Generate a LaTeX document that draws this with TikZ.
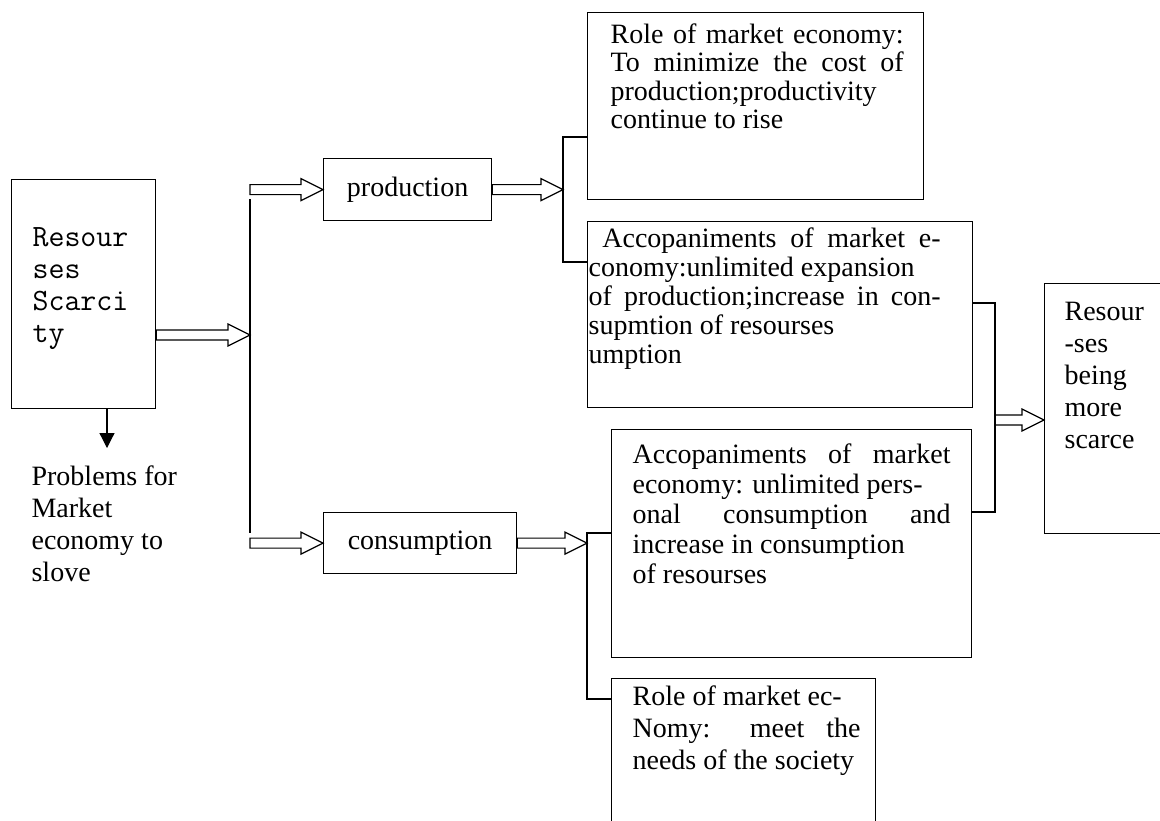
\documentclass[tikz,border=0pt]{standalone}
\usepackage{fontspec}
\setmainfont{Liberation Serif}
\usetikzlibrary{arrows.meta,calc}
\tikzset{
  box/.style={draw, line width=0.6pt, anchor=north west, inner sep=0pt, font=\fontsize{14}{16}\selectfont},
  txt/.style={anchor=base west, inner sep=0pt, align=justify, font=\fontsize{14}{#1}\selectfont},
  txt/.default=16pt,
  fat/.style={to path={let \p1=(\tikztostart), \p2=(\tikztotarget) in
    (\x1,\y1+2.5pt) -- (\x2-11pt,\y1+2.5pt) -- (\x2-11pt,\y1+5.5pt) -- (\x2,\y1)
    -- (\x2-11pt,\y1-5.5pt) -- (\x2-11pt,\y1-2.5pt) -- (\x1,\y1-2.5pt) -- cycle}},
}

\begin{document}
\begin{tikzpicture}[x=0.5pt, y=-0.5pt, line width=0.6pt]
	\path[use as bounding box, fill=white] (0,0) rectangle (1160,820);

	% boxes
	\node[box, minimum width=72pt, minimum height=114.5pt] (res) at (11,179) {};
	\node[box, minimum width=84pt, minimum height=31pt] (prod) at (323,158) {production};
	\node[box, minimum width=96.5pt, minimum height=30.5pt] (cons) at (323,512) {consumption};
	\node[box, minimum width=168pt, minimum height=93.5pt] (role1) at (587,12) {};
	\node[box, minimum width=192.5pt, minimum height=93pt] (acc1) at (587,221) {};
	\node[box, minimum width=180pt, minimum height=114pt] (acc2) at (611,429) {};
	\node[box, minimum width=132pt, minimum height=80pt] (role2) at (611,678) {};
	\node[box, minimum width=65pt, minimum height=125pt] (scarce) at (1044,283) {};

	% texts
	\node[txt, font=\ttfamily\fontsize{15.5}{16}\selectfont, text width=60pt] (resT) at (32,246) {Resour\\ses\\Scarci\\ty};
	\node[txt, text width=80pt] (probT) at (31,485) {Problems for\\Market\\economy to\\slove};
	\node[txt=14.25pt, text width=146.5pt] (role1T) at (610,43) {Role of market economy:\linebreak To minimize the cost of\linebreak production;productivity\\continue to rise};
	\node[txt=14.5pt, text width=176pt] (acc1T) at (588,247) {\ Accopaniments of market e-\linebreak conomy:unlimited expansion\\of production;increase in con-\linebreak supmtion of resourses\\umption};
	\node[txt=15pt, text width=159pt] (acc2T) at (632,463) {Accopaniments of market\linebreak economy: unlimited pers-\\onal consumption and\linebreak increase in consumption\\of resourses};
	\node[txt, text width=114pt] (role2T) at (632,705) {Role of market ec-\\Nomy: meet the\linebreak needs of the society};
	\node[txt, text width=45pt] (scarceT) at (1064,320) {Resour\\-ses\\being\\more\\scarce};

	% joints
	\coordinate (split) at (250,335);
	\coordinate (splitT) at (250,199);
	\coordinate (splitB) at (250,533);
	\coordinate (dn) at (107,448);
	\coordinate (b1T) at (563,137);
	\coordinate (b1B) at (563,262);
	\coordinate (b2T) at (587,533);
	\coordinate (b2B) at (587,699);
	\coordinate (b3T) at (995,303);
	\coordinate (b3B) at (995,512);
	\coordinate (b3M) at (995,420);

	% connectors
	\draw (res.east |- split) to[fat] (split);
	\draw (splitT) -- (splitB);
	\draw (prod.west -| split) to[fat] (prod.west);
	\draw (cons.west -| split) to[fat] (cons.west);
	\draw (prod.east) to[fat] (prod.east -| b1T);
	\draw (role1.west |- b1T) -- (b1T) -- (b1B) -- (acc1.west |- b1B);
	\draw (cons.east) to[fat] (cons.east -| b2T);
	\draw (acc2.west |- b2T) -- (b2T) -- (b2B) -- (role2.west |- b2B);
	\draw (acc1.east |- b3T) -- (b3T) -- (b3B) -- (acc2.east |- b3B);
	\draw (b3M) to[fat] (scarce.west |- b3M);
	\draw[-{Triangle[width=7.5pt,length=7.5pt]}] (res.south -| dn) -- (dn);
\end{tikzpicture}
\end{document}
